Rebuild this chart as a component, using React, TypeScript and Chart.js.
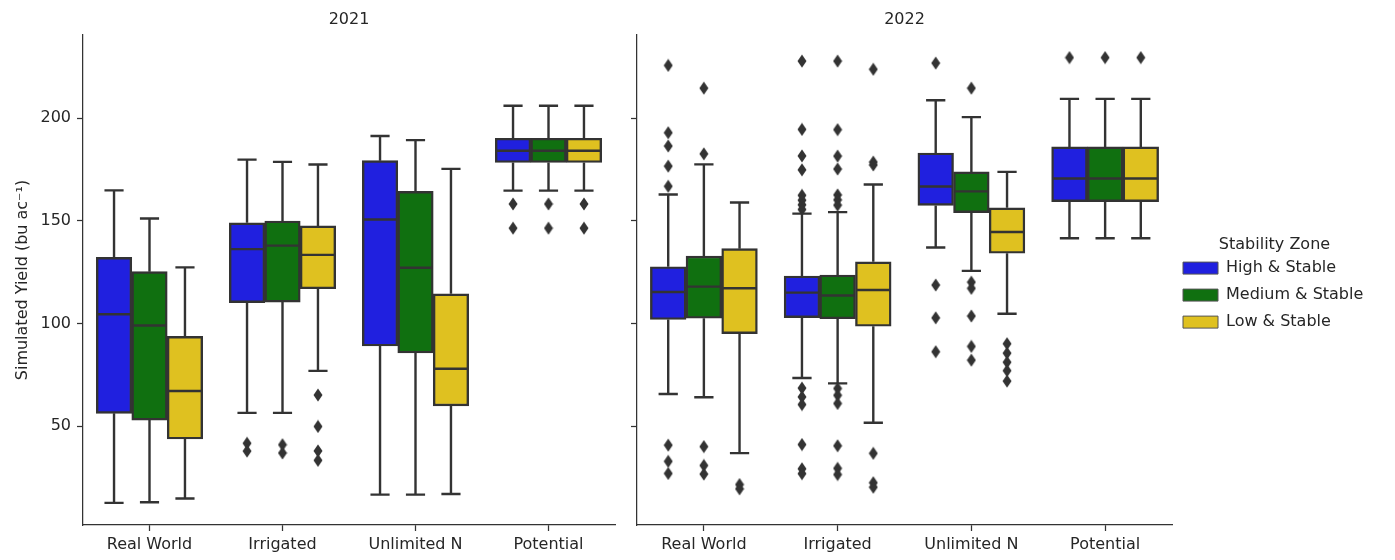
import React, { useEffect, useRef } from "react";
import { Chart, registerables } from "chart.js";

Chart.register(...registerables);

const categories = ["Real World", "Irrigated", "Unlimited N", "Potential"];
const zones = ["High & Stable", "Medium & Stable", "Low & Stable"];
const years = ["2021", "2022"];
const yTicks = [50, 100, 150, 200];
const yLabel = "Simulated Yield (bu ac⁻¹)";
const legendTitle = "Stability Zone";

// rows: zones (High, Medium, Low); columns: categories
const whiskerLow2021 = [
  [12.6, 56.4, 16.6, 164.7],
  [12.9, 56.4, 16.6, 164.7],
  [14.7, 76.9, 16.9, 164.7],
];
const q1_2021 = [
  [56.2, 110.1, 89.0, 178.4],
  [52.9, 110.4, 85.6, 178.4],
  [43.7, 116.9, 59.8, 178.4],
];
const median2021 = [
  [104.5, 136.2, 150.6, 184.1],
  [99.0, 137.9, 127.1, 184.1],
  [67.1, 133.4, 77.9, 184.1],
];
const q3_2021 = [
  [132.2, 149.0, 179.3, 190.2],
  [125.2, 149.9, 164.3, 190.2],
  [93.7, 147.5, 114.4, 190.2],
];
const whiskerHigh2021 = [
  [164.8, 179.8, 191.3, 206.0],
  [151.1, 178.7, 189.3, 206.0],
  [127.3, 177.4, 175.3, 206.0],
];
const outliers2021 = [
  [[], [41.6, 37.8], [], [158.2, 146.4]],
  [[], [40.9, 36.9], [], [158.2, 146.4]],
  [[], [65.1, 49.8, 37.9, 33.3], [], [158.2, 146.4]],
];

const whiskerLow2022 = [
  [65.6, 73.4, 137.0, 141.5],
  [64.0, 70.8, 125.6, 141.5],
  [36.8, 51.6, 104.7, 141.5],
];
const q1_2022 = [
  [101.9, 102.8, 157.5, 159.3],
  [102.5, 102.3, 154.0, 159.3],
  [95.0, 98.6, 134.2, 159.3],
];
const median2022 = [
  [115.3, 115.0, 166.7, 170.6],
  [117.9, 113.6, 164.3, 170.6],
  [117.1, 116.3, 144.5, 170.6],
];
const q3_2022 = [
  [127.6, 123.1, 183.0, 186.0],
  [132.8, 123.6, 173.8, 186.0],
  [136.4, 130.0, 156.3, 186.0],
];
const whiskerHigh2022 = [
  [162.8, 153.5, 208.7, 209.4],
  [177.5, 154.2, 200.5, 209.4],
  [158.9, 167.7, 173.8, 209.4],
];
const outliers2022 = [
  [
    [225.7, 192.9, 186.4, 176.6, 166.8, 40.7, 32.8, 26.9],
    [227.8, 194.5, 181.6, 174.8, 162.4, 160.0, 157.8, 155.5, 68.5, 64.2, 60.5, 41.0, 29.2, 26.8],
    [226.8, 118.7, 102.7, 86.2],
    [229.5],
  ],
  [
    [214.6, 182.6, 40.0, 30.8, 26.6],
    [227.8, 194.4, 181.5, 175.2, 162.6, 160.2, 157.6, 68.3, 65.0, 61.0, 40.4, 29.4, 26.4],
    [214.6, 120.1, 117.1, 103.6, 88.8, 82.1],
    [229.5],
  ],
  [
    [21.5, 19.4],
    [223.8, 178.6, 177.2, 36.7, 22.4, 20.2],
    [90.1, 85.5, 81.1, 77.0, 71.9],
    [229.5],
  ],
];

const statsByYear = [
  { low: whiskerLow2021, q1: q1_2021, med: median2021, q3: q3_2021, high: whiskerHigh2021, out: outliers2021 },
  { low: whiskerLow2022, q1: q1_2022, med: median2022, q3: q3_2022, high: whiskerHigh2022, out: outliers2022 },
];

const zoneColors = ["#2020df", "#107010", "#dfc120"];
const lineColor = "#333333";
const textColor = "#262626";
const FONT = "'DejaVu Sans', sans-serif";
const LEGEND_WIDTH = 205;

Chart.defaults.font.family = FONT;

function makeDiamond(): HTMLCanvasElement {
  const c = document.createElement("canvas");
  c.width = 10;
  c.height = 14;
  const g = c.getContext("2d")!;
  g.fillStyle = lineColor;
  g.beginPath();
  g.moveTo(5, 0.5);
  g.lineTo(9.5, 7);
  g.lineTo(5, 13.5);
  g.lineTo(0.5, 7);
  g.closePath();
  g.fill();
  return c;
}

function makeBoxPlugin(stats: any) {
  return {
    id: "boxWhiskers",
    beforeLayout(chart: any) {
      const lg = chart.legend;
      if (lg && !lg.__fixedWidth) {
        const origFit = lg.fit;
        lg.fit = function (this: any) {
          origFit.call(this);
          if (this.options.display) this.width = LEGEND_WIDTH;
        };
        lg.__fixedWidth = true;
      }
    },
    afterDatasetsDraw(chart: any) {
      const ctx = chart.ctx;
      const ys = chart.scales.y;
      ctx.save();
      ctx.strokeStyle = lineColor;
      ctx.lineWidth = 2.4;
      for (let k = 0; k < zones.length; k++) {
        const meta = chart.getDatasetMeta(k);
        meta.data.forEach((bar: any, i: number) => {
          const { x, width } = bar.getProps(["x", "width"], true);
          const half = width / 2;
          const cap = width * 0.27;
          const pLow = ys.getPixelForValue(stats.low[k][i]);
          const pQ1 = ys.getPixelForValue(stats.q1[k][i]);
          const pMed = ys.getPixelForValue(stats.med[k][i]);
          const pQ3 = ys.getPixelForValue(stats.q3[k][i]);
          const pHigh = ys.getPixelForValue(stats.high[k][i]);
          ctx.beginPath();
          ctx.moveTo(x, pQ1);
          ctx.lineTo(x, pLow);
          ctx.moveTo(x - cap, pLow);
          ctx.lineTo(x + cap, pLow);
          ctx.moveTo(x, pQ3);
          ctx.lineTo(x, pHigh);
          ctx.moveTo(x - cap, pHigh);
          ctx.lineTo(x + cap, pHigh);
          ctx.moveTo(x - half + 1, pMed);
          ctx.lineTo(x + half - 1, pMed);
          ctx.stroke();
        });
      }
      ctx.restore();
    },
  };
}

function buildConfig(yi: number, diamond: HTMLCanvasElement): any {
  const stats = statsByYear[yi];
  const first = yi === 0;
  const font = { family: FONT, size: 16 };
  const hueStep = 0.8 / zones.length;
  const boxes = zones.map((z, k) => ({
    type: "bar",
    label: z,
    data: categories.map((_, i) => ({ x: i + (k - 1) * hueStep, y: [stats.q1[k][i], stats.q3[k][i]] })),
    backgroundColor: zoneColors[k],
    borderColor: lineColor,
    borderWidth: 2.4,
    borderSkipped: false,
    grouped: false,
    categoryPercentage: 1,
    barPercentage: 1,
    xAxisID: "x",
    yAxisID: "y",
  }));
  const fliers = zones.map((z, k) => ({
    type: "scatter",
    label: z + " outliers",
    data: stats.out[k].flatMap((list: number[], i: number) =>
      list.map((v) => ({ x: i + (k - 1) * hueStep, y: v }))
    ),
    pointStyle: diamond,
    grouped: false,
    backgroundColor: lineColor,
    borderColor: lineColor,
    xAxisID: "x",
    yAxisID: "y",
  }));
  return {
    type: "bar",
    data: { datasets: [...boxes, ...fliers] },
    options: {
      responsive: false,
      animation: false,
      layout: { padding: { left: 0, right: first ? 5 : 18, top: 0, bottom: 0 } },
      plugins: {
        title: {
          display: true,
          text: years[yi],
          fullSize: false,
          font: { ...font, weight: "normal" },
          color: textColor,
          padding: { top: 10, bottom: 5.8 },
        },
        legend: first
          ? { display: false }
          : {
              display: true,
              position: "right",
              align: "center",
              labels: {
                boxWidth: 35,
                boxHeight: 12,
                padding: 11,
                font,
                color: textColor,
                filter: (item: any) => item.datasetIndex < zones.length,
                generateLabels: (chart: any) =>
                  Chart.defaults.plugins.legend.labels
                    .generateLabels(chart)
                    .map((l: any) => ({ ...l, lineWidth: 1, strokeStyle: "#555555" })),
              },
              title: {
                display: true,
                text: legendTitle,
                font,
                color: textColor,
                padding: { top: 18, bottom: -7 },
              },
            },
        tooltip: { enabled: false },
      },
      scales: {
        x: {
          type: "linear",
          min: -0.5,
          max: 3.5,
          offset: false,
          afterBuildTicks: (s: any) => {
            s.ticks = categories.map((_, i) => ({ value: i }));
          },
          grid: {
            display: true,
            offset: false,
            drawOnChartArea: false,
            drawTicks: true,
            tickLength: 6,
            tickWidth: 1.25,
            tickColor: lineColor,
          },
          border: { display: true, color: lineColor, width: 1.25 },
          ticks: {
            font,
            color: textColor,
            padding: 4,
            maxRotation: 0,
            autoSkip: false,
            callback: (v: any) => categories[Math.round(Number(v))] ?? "",
          },
          afterFit: (s: any) => {
            s.height = 35;
          },
        },
        y: {
          type: "linear",
          min: 1.8,
          max: 240.5,
          afterBuildTicks: (s: any) => {
            s.ticks = yTicks.map((v) => ({ value: v }));
          },
          grid: {
            display: true,
            drawOnChartArea: false,
            drawTicks: true,
            tickLength: 6,
            tickWidth: 1.25,
            tickColor: lineColor,
          },
          border: { display: true, color: lineColor, width: 1.25 },
          ticks: { display: first, font, color: textColor, padding: 6 },
          title: {
            display: first,
            text: yLabel,
            font,
            color: textColor,
            padding: { top: 13, bottom: 0 },
          },
          afterFit: (s: any) => {
            s.width = first ? 83 : 17;
          },
        },
      },
    },
    plugins: [makeBoxPlugin(stats)],
  };
}

export default function App() {
  const ref1 = useRef<HTMLCanvasElement>(null);
  const ref2 = useRef<HTMLCanvasElement>(null);
  useEffect(() => {
    document.body.style.margin = "0";
    const diamond = makeDiamond();
    const c1 = new Chart(ref1.current!, buildConfig(0, diamond));
    const c2 = new Chart(ref2.current!, buildConfig(1, diamond));
    return () => {
      c1.destroy();
      c2.destroy();
    };
  }, []);
  return (
    <div style={{ position: "relative", width: 1395, height: 560, background: "#ffffff" }}>
      <canvas ref={ref1} width={620} height={560} style={{ position: "absolute", left: 0, top: 0 }} />
      <canvas ref={ref2} width={775} height={560} style={{ position: "absolute", left: 620, top: 0 }} />
    </div>
  );
}
